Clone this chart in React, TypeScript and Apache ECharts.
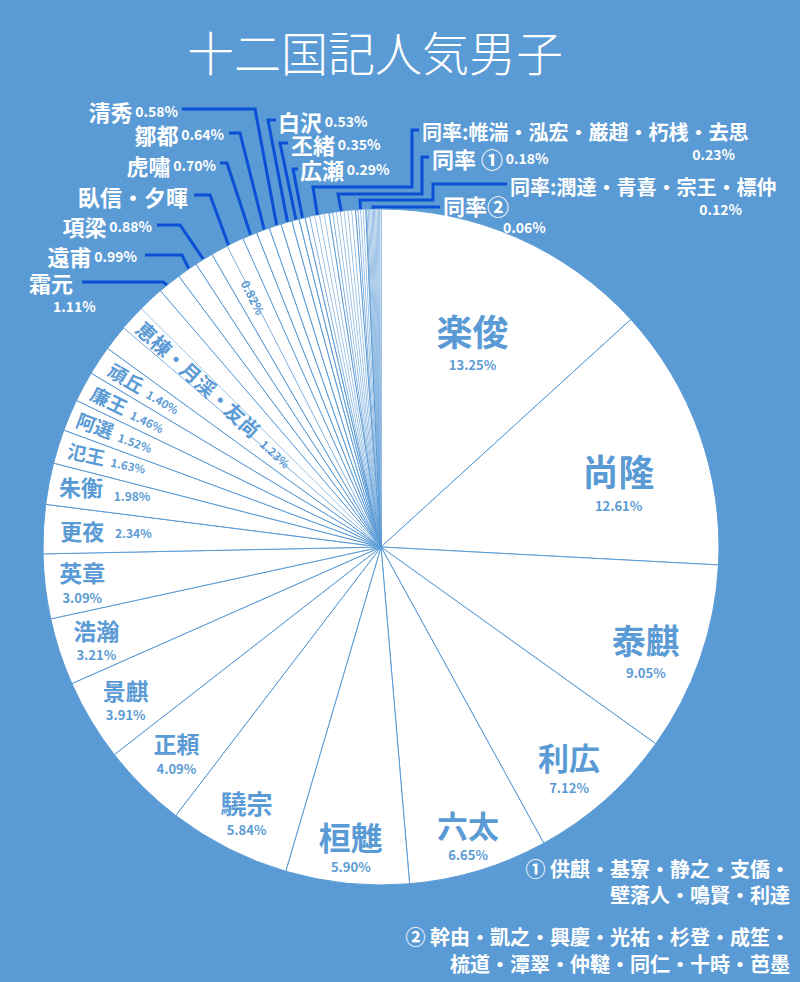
import React, { useEffect, useRef } from 'react';
import * as echarts from 'echarts';

// ---------- data ----------
const titleText = '十二国記人気男子';

const groupNames = [
  '楽俊', '尚隆', '泰麒', '利広', '六太', '桓魋', '驍宗', '正頼', '景麒', '浩瀚', '英章',
  '更夜', '朱衡', '氾王', '阿選', '廉王', '頑丘', '恵棟・月渓・友尚', '霜元', '遠甫', '項梁',
  '臥信・夕暉', '虎嘯', '鄒都', '清秀', '白沢', '丕緒', '広瀬',
  '同率:帷湍・泓宏・巌趙・朽桟・去思', '同率 ①', '同率:潤達・青喜・宗王・標仲', '同率②'
];

const groupValues = [
  13.25, 12.61, 9.05, 7.12, 6.65, 5.90, 5.84, 4.09, 3.91, 3.21, 3.09,
  2.34, 1.98, 1.63, 1.52, 1.46, 1.40, 1.23, 1.11, 0.99, 0.88,
  0.82, 0.70, 0.64, 0.58, 0.53, 0.35, 0.29,
  0.23, 0.18, 0.12, 0.06
];

const note1Members = ['供麒', '基寮', '静之', '支僑', '壁落人', '鳴賢', '利達'];
const note2Members = ['幹由', '凱之', '興慶', '光祐', '杉登', '成笙', '梳道', '潭翠', '仲韃', '同仁', '十時', '芭墨'];

const groupMembers: string[][] = [
  ['楽俊'], ['尚隆'], ['泰麒'], ['利広'], ['六太'], ['桓魋'], ['驍宗'], ['正頼'], ['景麒'], ['浩瀚'], ['英章'],
  ['更夜'], ['朱衡'], ['氾王'], ['阿選'], ['廉王'], ['頑丘'], ['恵棟', '月渓', '友尚'], ['霜元'], ['遠甫'], ['項梁'],
  ['臥信', '夕暉'], ['虎嘯'], ['鄒都'], ['清秀'], ['白沢'], ['丕緒'], ['広瀬'],
  ['帷湍', '泓宏', '巌趙', '朽桟', '去思'], note1Members, ['潤達', '青喜', '宗王', '標仲'], note2Members
];

// ---------- layout ----------
const CX = 381;
const CY = 547;
const R = 338;
const BG = '#5b9bd5';
const TXT = '#5b9bd5';
const LINE = '#0a50d4';
const F = "'Noto Sans CJK JP', 'Noto Sans', sans-serif";

type Spec = {
  g: number;
  m?: number;
  kind: 'in' | 'out';
  text: string;
  frac?: number;
  dAng?: number;
  rot?: number | 'radial';
  x?: number;
  y?: number;
  align: 'left' | 'center' | 'right';
  vAlign?: 'top' | 'middle' | 'bottom';
  path?: number[][];
};

const N = (g: number) => groupNames[g];
const P = (g: number) => groupValues[g].toFixed(2) + '%';
const stack = (g: number, ns: string, ps: string) => `{${ns}|${N(g)}}\n{${ps}|${P(g)}}`;
const inline = (g: number, ns: string, ps: string) => `{${ns}|${N(g)}} {${ps}|${P(g)}}`;

const specs: Spec[] = [
  { g: 0, kind: 'in', text: stack(0, 'n36', 'p13'), frac: 0.67, dAng: 0, align: 'center' },
  { g: 1, kind: 'in', text: stack(1, 'n36', 'p13'), frac: 0.73, dAng: 4, align: 'center' },
  { g: 2, kind: 'in', text: stack(2, 'n34', 'p13'), frac: 0.84, dAng: 1.8, align: 'center' },
  { g: 3, kind: 'in', text: stack(3, 'n31', 'p13'), frac: 0.855, dAng: 1, align: 'center' },
  { g: 4, kind: 'in', text: stack(4, 'n31b', 'p13'), frac: 0.89, align: 'center' },
  { g: 5, kind: 'in', text: stack(5, 'n32', 'p13'), frac: 0.89, align: 'center' },
  { g: 6, kind: 'in', text: stack(6, 'n26', 'p13'), frac: 0.88, align: 'center' },
  { g: 7, kind: 'in', text: stack(7, 'n23', 'p13'), frac: 0.86, align: 'center' },
  { g: 8, kind: 'in', text: stack(8, 'n23', 'p13'), frac: 0.88, align: 'center' },
  { g: 9, kind: 'in', text: stack(9, 'n23', 'p13'), frac: 0.886, align: 'center' },
  { g: 10, kind: 'in', text: stack(10, 'n23', 'p13'), frac: 0.89, align: 'center' },
  { g: 11, kind: 'in', text: inline(11, 's22', 'sp12a'), frac: 0.95, align: 'left' },
  { g: 12, kind: 'in', text: inline(12, 's22', 'sp12b'), frac: 0.97, align: 'left' },
  { g: 13, kind: 'in', text: inline(13, 'r19', 'rp11'), frac: 0.97, rot: -12, align: 'left' },
  { g: 14, kind: 'in', text: inline(14, 'r19', 'rp11'), frac: 0.975, rot: -20, align: 'left' },
  { g: 15, kind: 'in', text: inline(15, 'r19', 'rp11'), frac: 0.97, rot: -26, align: 'left' },
  { g: 16, kind: 'in', text: inline(16, 'r19', 'rp11'), frac: 0.96, rot: -30, align: 'left' },
  { g: 17, kind: 'in', text: `{r20|${N(17)}}  {rp11|${P(17)}}`, frac: 0.97, rot: 'radial', align: 'left' },
  { g: 21, m: 1, kind: 'in', text: `{rp12|${P(21)}}`, frac: 0.83, rot: 'radial', align: 'center' },

  { g: 18, kind: 'out', text: `{w22|${N(18)}}\n{w14i|${P(18)}}`, x: 29, y: 271, align: 'left', vAlign: 'top', path: [[163, 282], [82, 282]] },
  { g: 19, kind: 'out', text: inline(19, 'w22', 'w14'), x: 137, y: 256, align: 'right', path: [[182, 255], [145, 255]] },
  { g: 20, kind: 'out', text: inline(20, 'w22', 'w14'), x: 152, y: 226, align: 'right', path: [[180, 225], [157, 225]] },
  { g: 21, m: 0, kind: 'out', text: `{w22|${N(21)}}`, x: 188, y: 196, align: 'right', path: [[210, 195], [194, 195]] },
  { g: 22, kind: 'out', text: inline(22, 'w22', 'w14'), x: 216, y: 165, align: 'right', path: [[227, 163], [220, 163]] },
  { g: 23, kind: 'out', text: inline(23, 'w22', 'w14'), x: 224, y: 134, align: 'right', path: [[240, 133], [229, 133]] },
  { g: 24, kind: 'out', text: inline(24, 'w22', 'w14'), x: 178, y: 111, align: 'right', path: [[255, 109], [182, 109]] },
  { g: 25, kind: 'out', text: inline(25, 'w22', 'w14'), x: 278, y: 121, align: 'left', path: [[268, 120], [276, 120]] },
  { g: 26, kind: 'out', text: inline(26, 'w22', 'w14'), x: 291, y: 144, align: 'left', path: [[280, 143], [288, 143]] },
  { g: 27, kind: 'out', text: inline(27, 'w22', 'w14'), x: 300, y: 169, align: 'left', path: [[293, 169], [298, 169]] },
  { g: 28, m: 0, kind: 'out', text: `{w20|${N(28)}}`, x: 422, y: 131, align: 'left', path: [[313, 187], [412, 187], [412, 130], [419, 130]] },
  { g: 28, m: 1, kind: 'out', text: `{w14s|${P(28)}}`, x: 735, y: 154, align: 'right' },
  { g: 29, kind: 'out', text: inline(29, 'w22', 'w14'), x: 432, y: 158, align: 'left', path: [[338, 194], [422, 194], [422, 157], [429, 157]] },
  { g: 30, m: 0, kind: 'out', text: `{w20|${N(30)}}`, x: 510, y: 186, align: 'left', path: [[360, 200], [433, 200], [433, 184], [507, 184]] },
  { g: 30, m: 1, kind: 'out', text: `{w14s|${P(30)}}`, x: 742, y: 209, align: 'right' },
  { g: 31, m: 0, kind: 'out', text: `{w22|${N(31)}}`, x: 443, y: 205, align: 'left', path: [[373, 207], [440, 207]] },
  { g: 31, m: 1, kind: 'out', text: `{w14s|${P(31)}}`, x: 503, y: 227, align: 'left' }
];

function buildOption() {
  const slices: { name: string; value: number; g: number; m: number }[] = [];
  groupMembers.forEach((mem, g) => mem.forEach((name, m) => slices.push({ name, value: groupValues[g], g, m })));
  const total = slices.reduce((s, d) => s + d.value, 0);
  const groupStart: number[] = [];
  let acc = 0;
  groupMembers.forEach((mem, g) => {
    groupStart[g] = acc;
    acc += mem.length * groupValues[g];
  });
  const midAngle = (g: number) => ((groupStart[g] + (groupMembers[g].length * groupValues[g]) / 2) / total) * 360;
  const polar = (frac: number, deg: number) => {
    const a = (deg * Math.PI) / 180;
    return [CX + frac * R * Math.sin(a), CY - frac * R * Math.cos(a)];
  };

  const layoutByIndex: Record<number, any> = {};
  const specByIndex: Record<number, Spec> = {};
  specs.forEach((s) => {
    const idx = slices.findIndex((d) => d.g === s.g && d.m === (s.m || 0));
    specByIndex[idx] = s;
    const th = midAngle(s.g);
    if (s.kind === 'in') {
      const [x, y] = polar(s.frac || 0.8, th + (s.dAng || 0));
      const rotate = s.rot === 'radial' ? 270 - th : (s.rot as number) || 0;
      layoutByIndex[idx] = { x, y, align: s.align, verticalAlign: s.vAlign || 'middle', rotate };
    } else {
      const L: any = { x: s.x, y: s.y, align: s.align, verticalAlign: s.vAlign || 'middle', rotate: 0 };
      if (s.path) L.points = [polar(0.965, th), ...s.path];
      layoutByIndex[idx] = L;
    }
  });

  const data = slices.map((d, i) => {
    const s = specByIndex[i];
    return {
      name: d.name,
      value: d.value,
      itemStyle: { borderWidth: d.m === 0 ? 1 : 0.35 },
      label: s
        ? { show: true, position: s.kind === 'out' ? 'outside' : 'inside', formatter: s.text }
        : { show: false },
      labelLine: { show: !!(s && s.path) }
    };
  });

  const base = { fontFamily: F, fontWeight: 'bold' as const };
  const rich: any = {
    n36: { ...base, fontSize: 36, color: TXT, lineHeight: 50 },
    n34: { ...base, fontSize: 34, color: TXT, lineHeight: 46 },
    n32: { ...base, fontSize: 32, color: TXT, lineHeight: 40 },
    n31: { ...base, fontSize: 31, color: TXT, lineHeight: 42 },
    n31b: { ...base, fontSize: 31, color: TXT, lineHeight: 40 },
    n26: { ...base, fontSize: 26, color: TXT, lineHeight: 34 },
    n23: { ...base, fontSize: 23, color: TXT, lineHeight: 30 },
    p13: { ...base, fontSize: 13, color: TXT, lineHeight: 20 },
    s22: { ...base, fontSize: 22, color: TXT, lineHeight: 30 },
    sp12a: { ...base, fontSize: 12, color: TXT, lineHeight: 14, padding: [5, 0, 0, 8] },
    sp12b: { ...base, fontSize: 12, color: TXT, lineHeight: 14, padding: [20, 0, 0, 8] },
    r19: { ...base, fontSize: 19, color: TXT, lineHeight: 24 },
    r20: { ...base, fontSize: 20, color: TXT, lineHeight: 24 },
    rp11: { ...base, fontSize: 11.5, color: TXT, lineHeight: 14, padding: [6, 0, 0, 4] },
    rp12: { ...base, fontSize: 12, color: TXT, lineHeight: 14 },
    w22: { ...base, fontSize: 22, color: '#ffffff', lineHeight: 22 },
    w20: { ...base, fontSize: 20, color: '#ffffff', lineHeight: 22 },
    w14: { ...base, fontSize: 14, color: '#ffffff', lineHeight: 18 },
    w14s: { ...base, fontSize: 14, color: '#ffffff', lineHeight: 16 },
    w14i: { ...base, fontSize: 14, color: '#ffffff', lineHeight: 26, padding: [0, 0, 0, 24] }
  };

  const note1 = ['① ' + note1Members.slice(0, 4).join('・') + '・', note1Members.slice(4).join('・')];
  const note2 = ['② ' + note2Members.slice(0, 6).join('・') + '・', note2Members.slice(6).join('・')];
  const noteY = [868, 894, 936, 963];
  const notes = [...note1, ...note2];

  const textEl = (text: string, x: number, y: number, size: number, weight: string, align: string) => ({
    type: 'text',
    x,
    y,
    silent: true,
    style: {
      text,
      fill: '#ffffff',
      fontSize: size,
      fontWeight: weight,
      fontFamily: F,
      align,
      textAlign: align,
      verticalAlign: 'middle',
      textVerticalAlign: 'middle'
    }
  });

  return {
    animation: false,
    backgroundColor: BG,
    graphic: [
      textEl(titleText, 375, 50, 47, '300', 'center'),
      ...notes.map((t, i) => textEl(t, 790, noteY[i], 20, 'bold', 'right'))
    ],
    series: [
      {
        type: 'pie',
        center: [CX, CY],
        radius: [0, R],
        startAngle: 90,
        clockwise: true,
        avoidLabelOverlap: false,
        silent: true,
        emphasis: { disabled: true },
        itemStyle: { color: '#ffffff', borderColor: BG, borderWidth: 1 },
        label: { show: false, color: '#ffffff', fontFamily: F, fontSize: 12, rich },
        labelLine: { show: false, showAbove: true, smooth: false, lineStyle: { color: LINE, width: 3 } },
        labelLayout: (params: any) => {
          const L = layoutByIndex[params.dataIndex];
          if (!L) return {};
          const out: any = { x: L.x, y: L.y, align: L.align, verticalAlign: L.verticalAlign, rotate: L.rotate };
          if (L.points) out.labelLinePoints = L.points.map((p: number[]) => [p[0], p[1]]);
          return out;
        },
        data
      }
    ]
  };
}

export default function App() {
  const ref = useRef<HTMLDivElement>(null);
  useEffect(() => {
    document.body.style.margin = '0';
    const chart = echarts.init(ref.current as HTMLDivElement, null, { renderer: 'svg' });
    chart.setOption(buildOption() as any);
    return () => chart.dispose();
  }, []);
  return <div ref={ref} style={{ width: 800, height: 982 }} />;
}
